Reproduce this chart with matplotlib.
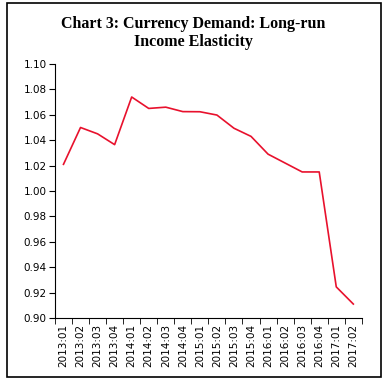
import numpy as np
import matplotlib.pyplot as plt
from matplotlib.patches import Rectangle

# data
quarters = ["2013:01", "2013:02", "2013:03", "2013:04",
            "2014:01", "2014:02", "2014:03", "2014:04",
            "2015:01", "2015:02", "2015:03", "2015:04",
            "2016:01", "2016:02", "2016:03", "2016:04",
            "2017:01", "2017:02"]
elasticity = [1.021, 1.050, 1.045, 1.0365,
              1.074, 1.065, 1.066, 1.0625,
              1.0624, 1.0598, 1.0494, 1.043,
              1.029, 1.022, 1.015, 1.015,
              0.9245, 0.911]
yticks = [0.90, 0.92, 0.94, 0.96, 0.98, 1.00, 1.02, 1.04, 1.06, 1.08, 1.10]

fig = plt.figure(figsize=(3.87, 3.82), dpi=100)
ax = fig.add_axes([0.142, 0.1675, 0.793, 0.665])

x = np.arange(len(quarters))
ax.plot(x, elasticity, color="#E8112D", lw=1.2)

ax.set_xlim(-0.5, len(quarters) - 0.5)
ax.set_ylim(0.90, 1.10)
ax.set_yticks(yticks)
ax.set_yticklabels(["%.2f" % v for v in yticks], fontsize=7.5)
ax.set_xticks(x)
ax.set_xticklabels(quarters, rotation=90, fontsize=7.5)
ax.set_xticks(np.arange(-0.5, len(quarters)), minor=True)
ax.tick_params(axis="x", which="major", length=0, pad=4)
ax.tick_params(axis="x", which="minor", length=4, direction="out")
ax.tick_params(axis="y", length=4, direction="out", pad=2)
for s in ["top", "right"]:
    ax.spines[s].set_visible(False)

#title
fig.text(0.5, 0.914, "Chart 3: Currency Demand: Long-run\nIncome Elasticity",
         ha="center", va="center", fontsize=11.5, fontweight="bold",
         family="Liberation Serif", linespacing=1.22)

#frame round the whole chart
fig.patches.append(Rectangle((7 / 387, 5 / 382), 374 / 387, 374 / 382,
                             transform=fig.transFigure, fill=False,
                             edgecolor="black", lw=1.2))

fig.savefig("out.png", dpi=100)
